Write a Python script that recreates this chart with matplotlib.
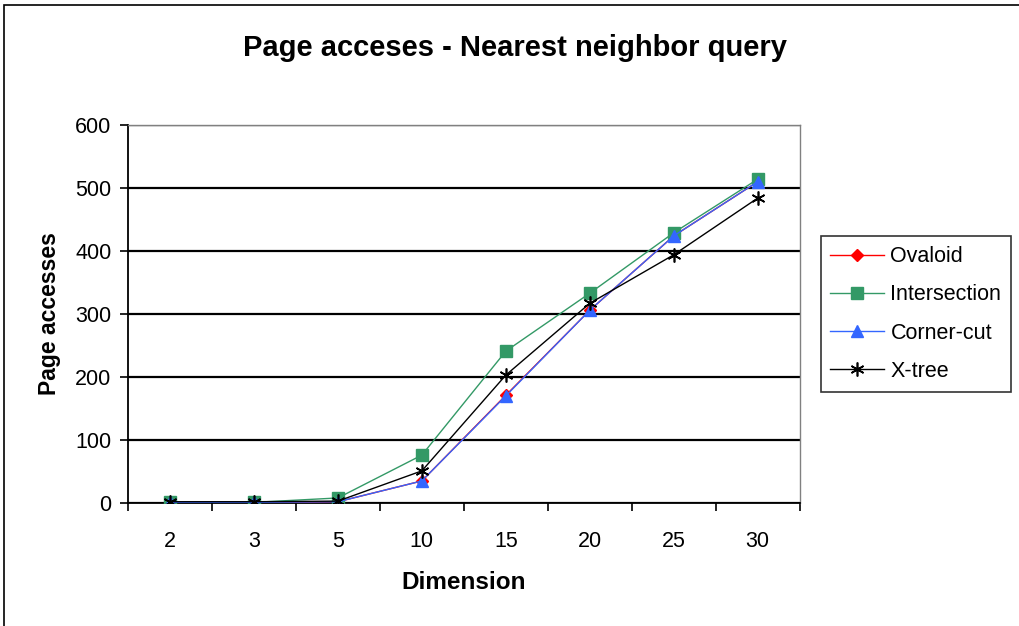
import numpy as np
import matplotlib.pyplot as plt
from matplotlib.patches import Rectangle

plt.rcParams['font.family'] = ['Liberation Sans', 'DejaVu Sans']

# ==== Data ====
dims = ['2', '3', '5', '10', '15', '20', '25', '30']
ovaloid = [1, 1, 2, 35, 171, 306, 424, 510]
intersection = [1, 1, 8, 76, 241, 333, 429, 514]
corner_cut = [1, 1, 2, 35, 170, 306, 424, 510]
x_tree = [2, 2, 3, 51, 203, 317, 394, 484]

x = np.arange(len(dims))

fig = plt.figure(figsize=(10.2, 6.26), dpi=100)
ax = fig.add_axes([0.1255, 0.1965, 0.6585, 0.6038])

# outer chart border (only left / top edges fall inside the image)
fig.patches.append(Rectangle((4 / 1020, -0.1), 1.2, 1 - 5 / 626 + 0.1,
                             transform=fig.transFigure, fill=False,
                             edgecolor='black', linewidth=1.2))

ax.plot(x, ovaloid, color='#ff0000', lw=1, marker='D', ms=6,
        mfc='#ff0000', mec='#ff0000', label='Ovaloid', zorder=3)
ax.plot(x, intersection, color='#339966', lw=1, marker='s', ms=8,
        mfc='#339966', mec='#339966', label='Intersection', zorder=4)
ax.plot(x, corner_cut, color='#3366ff', lw=1, marker='^', ms=8,
        mfc='#3366ff', mec='#3366ff', label='Corner-cut', zorder=5)
ax.plot(x, x_tree, color='black', lw=1, marker=(6, 2, 0), ms=10,
        mew=1.2, label='X-tree', zorder=6)

ax.set_xlim(-0.5, len(dims) - 0.5)
ax.set_ylim(0, 600)
ax.set_yticks(np.arange(0, 601, 100))
ax.set_xticks(x)
ax.set_xticklabels(dims)
ax.set_xticks(np.arange(-0.5, len(dims)), minor=True)
ax.tick_params(axis='x', which='major', length=0, pad=20, labelsize=15.5)
ax.tick_params(axis='x', which='minor', length=6, width=1.2, direction='out')
ax.tick_params(axis='y', length=6, width=1.2, direction='out', pad=6,
               labelsize=15.5)

ax.yaxis.grid(True, color='black', linewidth=1.6)
ax.set_axisbelow(True)
for side in ('top', 'right'):
    ax.spines[side].set_color('#808080')
    ax.spines[side].set_linewidth(1)
for side in ('left', 'bottom'):
    ax.spines[side].set_color('black')
    ax.spines[side].set_linewidth(1.3)

ax.set_xlabel('Dimension', fontsize=17.5, fontweight='bold', labelpad=14)
ax.set_ylabel('Page accesses', fontsize=16.5, fontweight='bold', labelpad=10)
fig.text(0.505, 0.923, 'Page acceses - Nearest neighbor query',
         ha='center', va='center', fontsize=21, fontweight='bold')

leg = ax.legend(loc='center left', bbox_to_anchor=(1.031, 0.5),
                frameon=True, fancybox=False, edgecolor='black',
                fontsize=15.5, handlelength=2.5, handletextpad=0.3,
                labelspacing=0.8, borderpad=0.45, borderaxespad=0)
leg.get_frame().set_linewidth(1.2)

fig.savefig('out.png', dpi=100)
